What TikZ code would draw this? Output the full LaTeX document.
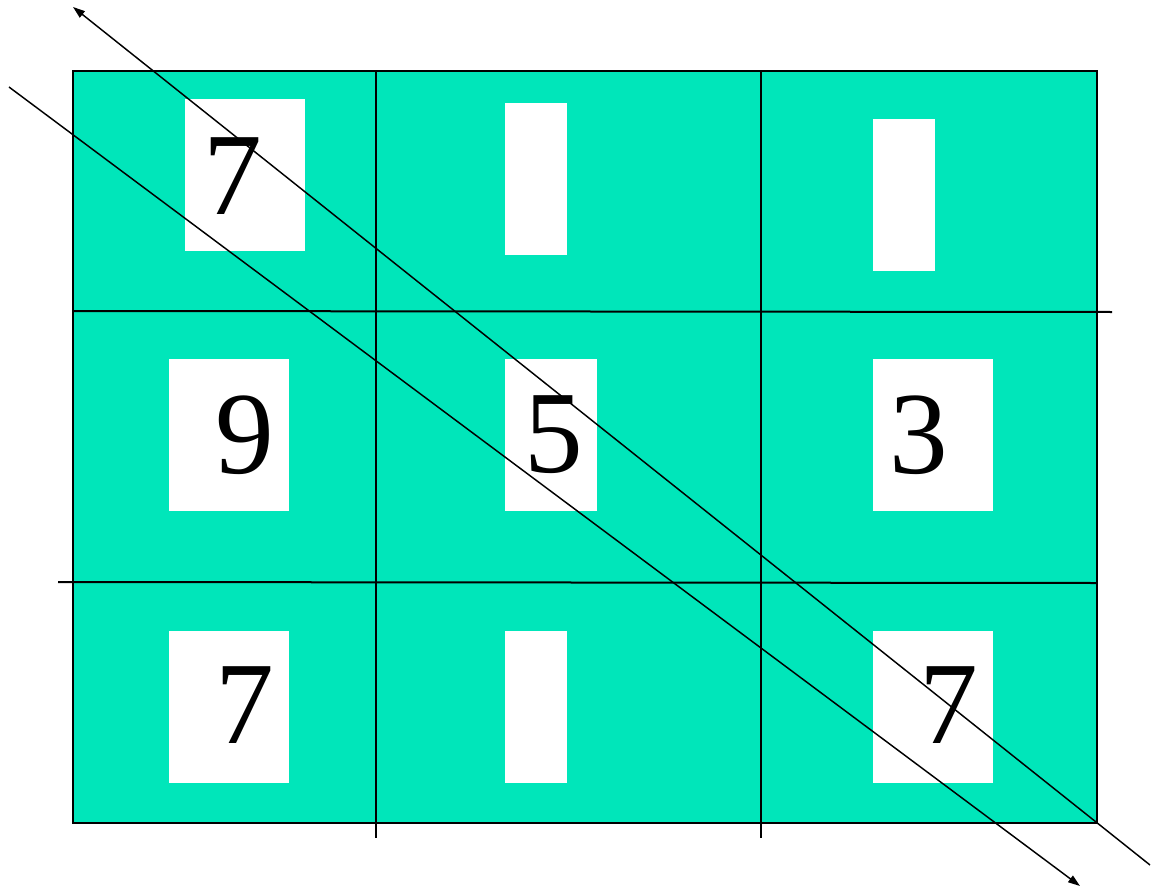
\documentclass[tikz,border=0pt]{standalone}
\usepackage{fontspec}
\setmainfont{Liberation Serif}
\usetikzlibrary{arrows.meta}
\definecolor{cteal}{HTML}{00E6BA}

\begin{document}
\begin{tikzpicture}[
    x=0.75pt, y=-0.75pt,
    grid/.style={line width=1.5pt, black},
    slot/.style={fill=white, draw=none, inner sep=0pt, anchor=north west, minimum height=114pt},
    wide/.style={slot, minimum width=90pt},
    thin/.style={slot, minimum width=46.5pt},
    digit/.style={font=\fontsize{88}{88}\selectfont, inner sep=0pt},
    diag/.style={line width=1.1pt, -{Triangle[length=9pt, width=6pt]}},
]
\useasboundingbox (0,0) rectangle (1152,888);

% Board
\fill[cteal] (73,71) rectangle (1097,823);

% === White slots (row 1) ===
\node[wide] (s11) at (185,99) {};
\node[thin] (s12) at (505,103) {};
\node[thin] (s13) at (873,119) {};

% === White slots (row 2) ===
\node[wide] (s21) at (169,359) {};
\node[slot, minimum width=69pt] (s22) at (505,359) {};
\node[wide] (s23) at (873,359) {};

% === White slots (row 3) ===
\node[wide] (s31) at (169,631) {};
\node[thin] (s32) at (505,631) {};
\node[wide] (s33) at (873,631) {};

% === Grid lines ===
\draw[grid] (73,71) rectangle (1097,823);
\draw[grid] (376,71) -- (376,838);
\draw[grid] (761,71) -- (761,838);
\draw[grid] (73,311) -- (1112,312);
\draw[grid] (58,582) -- (1097,583);

% Digits
\node[digit] (d11) at (233,176) {7};
\node[digit] (d21) at (245,435) {9};
\node[digit] (d22) at (554,435) {5};
\node[digit] (d23) at (919,435) {3};
\node[digit] (d31) at (245,705) {7};
\node[digit] (d33) at (949,705) {7};

% === Diagonals ===
\coordinate (a1) at (1150,865);
\coordinate (b1) at (73,7);
\coordinate (a2) at (9,87);
\coordinate (b2) at (1080,886);
\draw[diag] (a1) -- (b1);
\draw[diag] (a2) -- (b2);

\end{tikzpicture}
\end{document}
